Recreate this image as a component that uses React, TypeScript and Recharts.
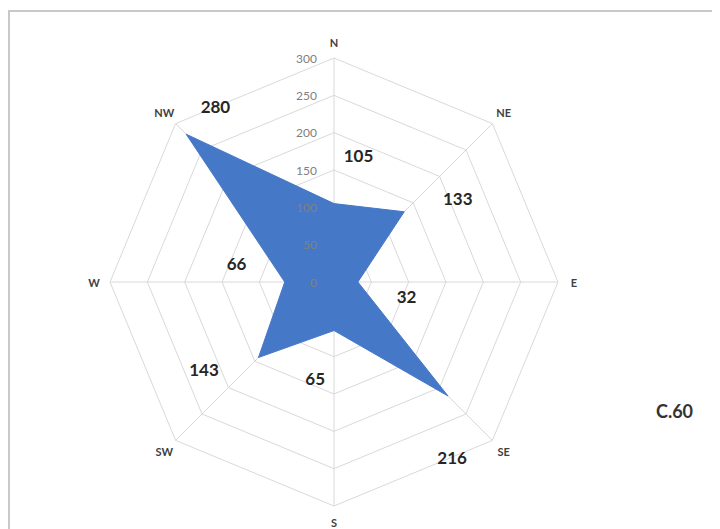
import { RadarChart, Radar, PolarGrid, PolarAngleAxis, PolarRadiusAxis } from "recharts";

// wind direction counts
const directions = ["N", "NE", "E", "SE", "S", "SW", "W", "NW"];
const counts = [105, 133, 32, 216, 65, 143, 66, 280];
const radiusTicks = [0, 50, 100, 150, 200, 250, 300];

const data = directions.map((dir, i) => ({ dir, count: counts[i] }));

const CX = 326;
const CY = 272;
const R = 224;
const MAX = 300;
const FILL = "#4678c8";

const AngleTick = (props: any) => {
    const { payload } = props;
    const a = (payload.coordinate * Math.PI) / 180;
    const x = CX + 240 * Math.cos(a);
    const y = CY - 240 * Math.sin(a);
    return (
        <text x={x} y={y} textAnchor="middle" dominantBaseline="central" fontSize={11} fontWeight={700} fill="#404040" fontFamily="Lato, sans-serif">
            {payload.value}
        </text>
    );
};

const RadiusTick = (props: any) => {
    const { x, y, payload } = props;
    return (
        <text x={x - 17} y={y} textAnchor="end" dominantBaseline="central" fontSize={12} fill="#808080" fontFamily="Lato, sans-serif">
            {payload.value}
        </text>
    );
};

// value labels sit a bit outside each point, turned slightly clockwise
const ValueLabel = (props: any) => {
    const { x, y, value } = props;
    const dx = x - CX;
    const dy = y - CY;
    const r = Math.hypot(dx, dy);
    const a = Math.atan2(-dy, dx) - (11 * Math.PI) / 180;
    const lr = Math.min(r + 50, 212);
    return (
        <text x={CX + lr * Math.cos(a)} y={CY - lr * Math.sin(a)} textAnchor="middle" dominantBaseline="central" fontSize={17} fontWeight={700} fill="#262626" fontFamily="Lato, sans-serif">
            {value}
        </text>
    );
};

export default function App() {
    return (
        <div style={{ position: "relative", width: 712, height: 519, marginTop: 2, borderTop: "2px solid #c8c8c8", borderLeft: "2px solid #c8c8c8", boxSizing: "border-box", background: "#fff", overflow: "hidden" }}>
            <div style={{ position: "absolute", left: -2, top: -2 }}>
                <RadarChart width={712} height={519} data={data} cx={CX} cy={CY} outerRadius={R} margin={{ top: 0, right: 0, bottom: 0, left: 0 }}>
                    <PolarGrid gridType="polygon" stroke="#d9d9d9" polarRadius={radiusTicks.map((t) => (t / MAX) * R)} />
                    <PolarAngleAxis dataKey="dir" tick={AngleTick} tickLine={false} axisLine={false} />
                    <Radar dataKey="count" fill={FILL} fillOpacity={1} stroke={FILL} isAnimationActive={false} label={ValueLabel} />
                    <PolarRadiusAxis angle={90} domain={[0, MAX]} ticks={radiusTicks as any} tick={RadiusTick} axisLine={false} tickLine={false} />
                </RadarChart>
            </div>
            <div style={{ position: "absolute", left: 646, top: 388, fontFamily: "Lato, sans-serif", fontSize: 18, fontWeight: 700, color: "#333" }}>
                C.60
            </div>
        </div>
    );
}
